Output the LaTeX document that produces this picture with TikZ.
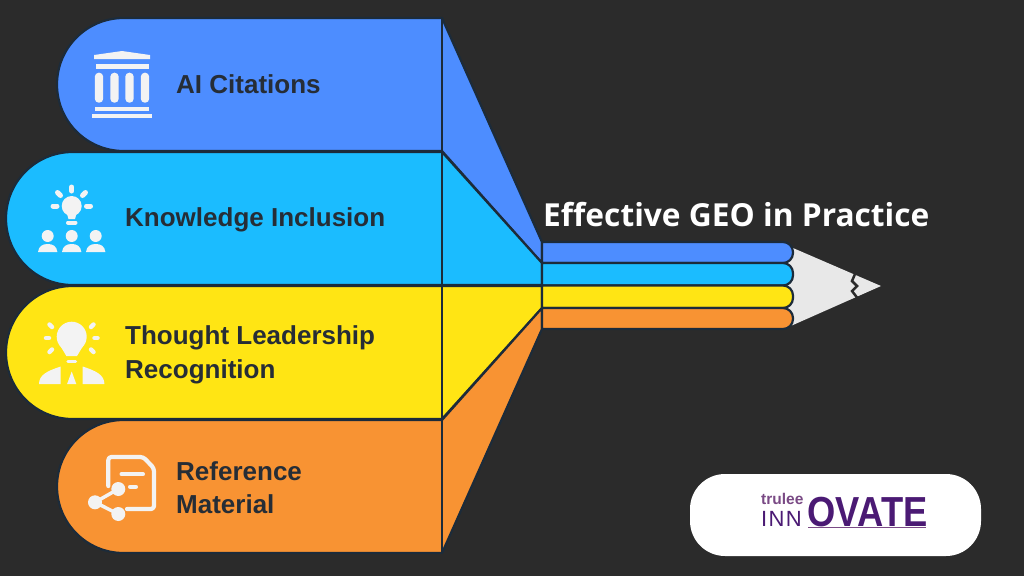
\documentclass[tikz,border=0pt]{standalone}
\usepackage{graphicx}
\usepackage{fontspec}
\setmainfont{Liberation Sans}
\newfontfamily\titlefont{Open Sans}
\usetikzlibrary{positioning}
\definecolor{pagecol}{HTML}{2B2B2B}
\definecolor{linecol}{HTML}{1C2B3A}
\definecolor{bluecol}{HTML}{4D8DFF}
\definecolor{cyancol}{HTML}{1BBCFF}
\definecolor{yellowcol}{HTML}{FFE514}
\definecolor{orangecol}{HTML}{F89333}
\definecolor{iconcol}{HTML}{F3F3F3}
\definecolor{tipcol}{HTML}{E8E8E8}
\definecolor{textcol}{HTML}{262D36}
\definecolor{logocol}{HTML}{4B1A74}
\definecolor{trulcol}{HTML}{7A4A85}
\tikzset{
  band/.style={draw=linecol,line width=2.2pt,line join=round},
  iconpart/.style={fill=iconcol,draw=none},
  iconline/.style={draw=iconcol,line cap=round,line join=round},
  bandtext/.style={text=textcol,anchor=west,align=left,inner sep=0pt,font=\fontsize{26}{33.5}\selectfont\bfseries}
}

\begin{document}
\begin{tikzpicture}[x=1pt,y=-1pt]
   \fill[pagecol] (0,0) rectangle (1024,576);
   \useasboundingbox (0,0) rectangle (1024,576);
   % pencil tip
   \fill[tipcol] (785,246) -- (793,248) -- (881,286) -- (793,325) -- (785,327) -- cycle;
   \draw[pagecol,line width=2.5pt] (855,274) -- (852,281) -- (857,286) -- (852,291) -- (857,297.5);
   % bands
   \draw[band,fill=bluecol] (442,18) -- (123.5,18) arc[start angle=90,end angle=270,radius=66.5pt] -- (442,151) -- (542,263) -- (542,242) -- cycle;
   \draw[band,fill=cyancol] (442,152) -- (72.5,152) arc[start angle=90,end angle=270,radius=66.5pt] -- (542,285) -- (542,263) -- cycle;
   \draw[band,fill=yellowcol] (442,286) -- (72.5,286) arc[start angle=90,end angle=270,radius=66.5pt] -- (442,419) -- (542,308) -- (542,286) -- cycle;
   \draw[band,fill=orangecol] (442,420) -- (123.5,420) arc[start angle=90,end angle=270,radius=66.5pt] -- (442,553) -- (542,329) -- (542,308) -- cycle;
   \draw[band] (442,18) -- (442,553);
   % pencil strips
   \draw[band,fill=bluecol] (542,242) [rounded corners=10pt] -- (793,242) -- (793,263) [sharp corners] -- (542,263) -- cycle;
   \draw[band,fill=cyancol] (542,263) [rounded corners=10pt] -- (793,263) -- (793,285.5) [sharp corners] -- (542,285.5) -- cycle;
   \draw[band,fill=yellowcol] (542,285.5) [rounded corners=10pt] -- (793,285.5) -- (793,308) [sharp corners] -- (542,308) -- cycle;
   \draw[band,fill=orangecol] (542,308) [rounded corners=10pt] -- (793,308) -- (793,329) [sharp corners] -- (542,329) -- cycle;
   % labels
   \node[bandtext] (citations) at (176,84.5) {AI Citations};
   \node[bandtext] (inclusion) at (125,219.5) {Knowledge Inclusion};
   \node[bandtext] (leadership) at (125,355) {Thought Leadership\\Recognition};
   \node[bandtext] (reference) at (176,487.5) {Reference\\Material};
   \node[anchor=west,inner sep=0pt,text=white,font=\titlefont\fontsize{31.7}{36}\selectfont\bfseries] (title) at (543,215) {Effective GEO in Practice};
   % blue icon
   \fill[iconpart] (94,55) -- (122,51) -- (150,55) -- (150,59) -- (94,59) -- cycle;
   \fill[iconpart] (96,64) rectangle (149,69);
   \foreach \x in {99,114.5,129.5,145}
      \fill[iconpart,rounded corners=4pt] (\x-4.2,72.7) rectangle (\x+4.2,102.7);
   \fill[iconpart] (95,106.5) rectangle (149,111);
   \fill[iconpart] (92,113.5) rectangle (152,118);
   % cyan icon
   \fill[iconpart] (71.7,206) circle (10pt);
   \fill[iconpart] (66.5,212) -- (77,212) -- (75,219) -- (68.5,219) -- cycle;
   \draw[iconline,line width=5pt] (71.7,187) -- (71.7,191);
   \draw[iconline,line width=5pt] (57.5,192.5) -- (60.5,195.5);
   \draw[iconline,line width=5pt] (85.5,192.5) -- (82.5,195.5);
   \draw[iconline,line width=5pt] (53,206) -- (57,206);
   \draw[iconline,line width=5pt] (86.5,206) -- (90.5,206);
   \draw[iconline,line width=4pt] (68,222.5) -- (75.5,222.5);
   \foreach \x in {47.7,71.7,95.7} {
      \fill[iconpart] (\x,236) circle (6pt);
      \fill[iconpart] (\x-9.7,252) .. controls (\x-9,246) and (\x-5,244) .. (\x,244) .. controls (\x+5,244) and (\x+9,246) .. (\x+9.7,252) -- cycle;
   }
   % yellow icon
   \fill[iconpart] (71.7,336.7) circle (15pt);
   \fill[iconpart] (61,347) -- (82.4,347) -- (77,356) -- (66.4,356) -- cycle;
   \draw[iconline,line width=4.5pt] (49.5,324.5) -- (52,327);
   \draw[iconline,line width=4.5pt] (93.5,324.5) -- (91,327);
   \draw[iconline,line width=4.5pt] (46,338) -- (49,338);
   \draw[iconline,line width=4.5pt] (94.5,338) -- (97.5,338);
   \draw[iconline,line width=4.5pt] (49.5,352) -- (52,349.5);
   \draw[iconline,line width=4.5pt] (93.5,352) -- (91,349.5);
   \draw[iconline,line width=3.5pt] (68,361.7) -- (75.5,361.7);
   \fill[iconpart] (39,384) .. controls (39,375) and (47,371) .. (60.7,366.5) -- (60.7,384) -- cycle;
   \fill[iconpart] (104.4,384) .. controls (104.4,375) and (96.4,371) .. (82.7,366.5) -- (82.7,384) -- cycle;
   \fill[iconpart] (71.7,371.5) -- (76.3,384) -- (67.1,384) -- cycle;
   % orange icon
   \draw[iconline,line width=4.2pt,rounded corners=3pt] (108.3,486) -- (108.3,457) -- (143.3,457) -- (154,468.3) -- (154,509) -- (127,509);
   \draw[iconline,line width=4pt] (121.5,474.3) -- (143,474.3);
   \draw[iconline,line width=4pt] (130,486.7) -- (136,486.7);
   \draw[iconline,line width=3.5pt] (118.3,489) -- (95,502.3) -- (118.3,514);
   \fill[iconpart] (95,502.3) circle (7pt);
   \fill[iconpart] (118.3,489) circle (7pt);
   \fill[iconpart] (118.3,514) circle (7pt);
   % logo
   \fill[white] (690,474) [rounded corners=35pt] -- (981,474) -- (981,556) -- (690,556) -- cycle;
   \node[anchor=south west,inner sep=0pt,text=logocol,font=\fontsize{22}{22}\selectfont] (inn) at (761,527) {\addfontfeature{LetterSpace=6}INN};
   \node[anchor=south west,inner sep=0pt,text=trulcol,font=\fontsize{15.5}{16}\selectfont\bfseries] (trulee) at (761,505) {trulee};
   \node[anchor=south west,inner sep=0pt,text=logocol,font=\fontsize{42}{42}\selectfont\bfseries] (ovate) at (807.5,527) {\scalebox{0.865}[1]{OVATE}};
   \draw[trulcol,line width=1.2pt] (808,527.5) -- (926,527.5);
\end{tikzpicture}
\end{document}
